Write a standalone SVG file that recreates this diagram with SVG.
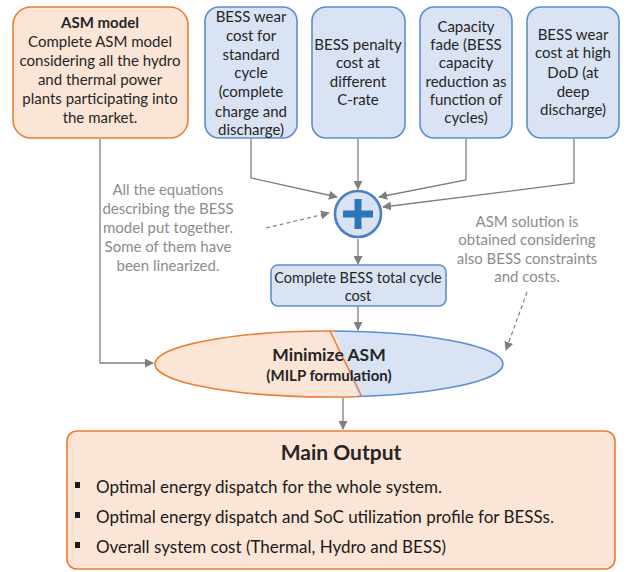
<svg xmlns="http://www.w3.org/2000/svg" width="633" height="572" viewBox="0 0 633 572">
  <defs>
    <marker id="arr" viewBox="0 0 10 10" refX="9" refY="5" markerWidth="9" markerHeight="9" markerUnits="userSpaceOnUse" orient="auto">
      <path d="M0,0 L10,5 L0,10 z" fill="#7f7f7f"/>
    </marker>
    <clipPath id="leftHalf">
      <polygon points="100,320 330,320 362,410 100,410"/>
    </clipPath>
    <clipPath id="rightHalf">
      <polygon points="330,320 560,320 560,410 362,410"/>
    </clipPath>
  </defs>
  <style>
    .orange { fill: #fbe5d6; stroke: #ed7d31; stroke-width: 1.6; }
    .blue { fill: #dae3f3; stroke: #5b8fd0; stroke-width: 1.6; }
    .t { font-family: Lato, "Liberation Sans", sans-serif; font-size: 15px; fill: #262626; text-anchor: middle; }
    .b { font-weight: bold; }
    .note { font-family: Lato, "Liberation Sans", sans-serif; font-size: 15px; fill: #8c8c8c; text-anchor: middle; }
    .ln { fill: none; stroke: #7f7f7f; stroke-width: 1.3; }
    .dash { fill: none; stroke: #7f7f7f; stroke-width: 1.2; stroke-dasharray: 4 3; }
    .li { font-family: Lato, "Liberation Sans", sans-serif; font-size: 17px; fill: #1a1a1a; }
  </style>

  <!-- connectors -->
  <g id="connectors">
    <polyline class="ln" points="251,139 251,178 337,197" marker-end="url(#arr)"/>
    <line class="ln" x1="358" y1="139" x2="358" y2="189" marker-end="url(#arr)"/>
    <polyline class="ln" points="466,139 466,180 379,197" marker-end="url(#arr)"/>
    <polyline class="ln" points="574,139 574,183 383,207" marker-end="url(#arr)"/>
    <line class="dash" x1="266" y1="228" x2="329" y2="213" marker-end="url(#arr)"/>
    <line class="ln" x1="358" y1="239" x2="358" y2="264" marker-end="url(#arr)"/>
    <line class="ln" x1="358" y1="306" x2="358" y2="330" marker-end="url(#arr)"/>
    <polyline class="ln" points="100,139 100,363 153,363" marker-end="url(#arr)"/>
    <line class="dash" x1="527" y1="292" x2="506" y2="350" marker-end="url(#arr)"/>
    <line class="ln" x1="343" y1="398" x2="343" y2="429" marker-end="url(#arr)"/>
  </g>

  <!-- ASM model -->
  <g id="asm-model">
    <rect class="orange" x="13" y="7" width="175" height="131" rx="18"/>
    <text class="t b" x="100" y="28">ASM model</text>
    <text class="t" x="100" y="47">Complete ASM model</text>
    <text class="t" x="100" y="66">considering all the hydro</text>
    <text class="t" x="100" y="85">and thermal power</text>
    <text class="t" x="100" y="104">plants participating into</text>
    <text class="t" x="100" y="123">the market.</text>
  </g>

  <!-- BESS wear cost, standard cycle -->
  <g id="wear-standard">
    <rect class="blue" x="205" y="7" width="92" height="131" rx="14"/>
    <text class="t" x="251" y="22">BESS wear</text>
    <text class="t" x="251" y="41">cost for</text>
    <text class="t" x="251" y="60">standard</text>
    <text class="t" x="251" y="78">cycle</text>
    <text class="t" x="251" y="97">(complete</text>
    <text class="t" x="251" y="117">charge and</text>
    <text class="t" x="251" y="135">discharge)</text>
  </g>

  <!-- BESS penalty cost -->
  <g id="penalty-crate">
    <rect class="blue" x="312" y="7" width="93" height="131" rx="14"/>
    <text class="t" x="358" y="50">BESS penalty</text>
    <text class="t" x="358" y="68">cost at</text>
    <text class="t" x="358" y="87">different</text>
    <text class="t" x="358" y="105">C-rate</text>
  </g>

  <!-- Capacity fade -->
  <g id="capacity-fade">
    <rect class="blue" x="420" y="7" width="92" height="131" rx="14"/>
    <text class="t" x="466" y="32">Capacity</text>
    <text class="t" x="466" y="50">fade (BESS</text>
    <text class="t" x="466" y="68">capacity</text>
    <text class="t" x="466" y="87">reduction as</text>
    <text class="t" x="466" y="105">function of</text>
    <text class="t" x="466" y="123">cycles)</text>
  </g>

  <!-- BESS wear cost, high DoD -->
  <g id="wear-high-dod">
    <rect class="blue" x="527" y="7" width="92" height="131" rx="14"/>
    <text class="t" x="573" y="40">BESS wear</text>
    <text class="t" x="573" y="58">cost at high</text>
    <text class="t" x="573" y="78">DoD (at</text>
    <text class="t" x="573" y="97">deep</text>
    <text class="t" x="573" y="115">discharge)</text>
  </g>

  <!-- sum node -->
  <g id="sum">
    <circle cx="358" cy="214" r="23" fill="#dae3f3" stroke="#4a7fc1" stroke-width="2.6"/>
    <path d="M358,199 V229 M343,214 H373" stroke="#2e75b6" stroke-width="7" fill="none"/>
  </g>

  <!-- equations note -->
  <g id="note-equations">
    <text class="note" x="168" y="195">All the equations</text>
    <text class="note" x="168" y="214">describing the BESS</text>
    <text class="note" x="168" y="233">model put together.</text>
    <text class="note" x="168" y="252">Some of them have</text>
    <text class="note" x="168" y="271">been linearized.</text>
  </g>

  <!-- total cycle cost -->
  <g id="total-cost">
    <rect class="blue" x="271" y="265" width="175" height="41" rx="7"/>
    <text class="t" x="358" y="283" style="font-size:14.5px">Complete BESS total cycle</text>
    <text class="t" x="358" y="301" style="font-size:14.5px">cost</text>
  </g>

  <!-- ASM solution note -->
  <g id="note-solution">
    <text class="note" x="527" y="227">ASM solution is</text>
    <text class="note" x="527" y="245">obtained considering</text>
    <text class="note" x="527" y="264">also BESS constraints</text>
    <text class="note" x="527" y="282">and costs.</text>
  </g>

  <!-- minimize ASM -->
  <g id="minimize">
    <ellipse cx="329" cy="364" rx="174" ry="33" fill="#fbe5d6" stroke="#ed7d31" stroke-width="1.6" clip-path="url(#leftHalf)"/>
    <ellipse cx="329" cy="364" rx="174" ry="33" fill="#dae3f3" stroke="#5b8fd0" stroke-width="1.6" clip-path="url(#rightHalf)"/>
    <line x1="330" y1="331" x2="362" y2="397" stroke="#ed7d31" stroke-width="1.6"/>
    <text class="t b" x="329" y="361" style="font-size:17.5px">Minimize ASM</text>
    <text class="t b" x="329" y="381" style="font-size:15px">(MILP formulation)</text>
  </g>

  <!-- main output -->
  <g id="main-output">
    <rect class="orange" x="67" y="431" width="548" height="138" rx="10"/>
    <text class="t b" x="341" y="460" style="font-size:21px">Main Output</text>
    <rect x="75" y="482" width="5" height="6" fill="#1a1a1a"/>
    <text class="li" x="96" y="493">Optimal energy dispatch for the whole system.</text>
    <rect x="75" y="512" width="5" height="6" fill="#1a1a1a"/>
    <text class="li" x="96" y="523">Optimal energy dispatch and SoC utilization profile for BESSs.</text>
    <rect x="75" y="542" width="5" height="6" fill="#1a1a1a"/>
    <text class="li" x="96" y="553">Overall system cost (Thermal, Hydro and BESS)</text>
  </g>
</svg>
